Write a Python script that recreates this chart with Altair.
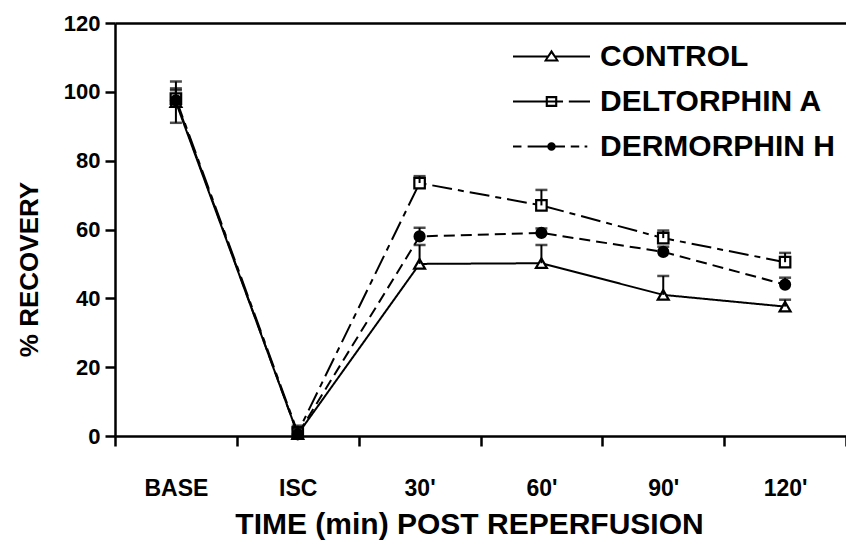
import altair as alt
import pandas as pd

# ---- data ----
categories = ["BASE", "ISC", "30'", "60'", "90'", "120'"]
series_names = ["CONTROL", "DELTORPHIN A", "DERMORPHIN H"]

control = [97.0, 0.5, 50.0, 50.2, 41.0, 37.6]
control_err_hi = [4.0, 2.0, 5.5, 5.3, 5.5, 2.0]
control_err_lo = [6.0, 0.0, 0.0, 0.0, 0.0, 0.0]

deltorphin = [98.0, 1.0, 73.5, 67.0, 57.5, 50.5]
deltorphin_err_hi = [5.0, 2.0, 2.0, 4.5, 2.2, 2.7]
deltorphin_err_lo = [0.0, 0.0, 0.0, 0.0, 0.0, 0.0]

dermorphin = [97.5, 0.5, 58.0, 59.0, 53.5, 44.0]
dermorphin_err_hi = [3.0, 1.5, 2.5, 1.3, 1.5, 2.0]
dermorphin_err_lo = [0.0, 0.0, 0.0, 0.0, 0.0, 0.0]

y_ticks = [0, 20, 40, 60, 80, 100, 120]

# ---- styles ----
FONT = "Liberation Sans"
dashes = [[1, 0], [20, 6, 6, 6], [11, 6]]
point_shapes = ["triangle-up", "square", "circle"]
point_sizes = [120, 100, 60]
point_fills = ["white", "white", "black"]

# legend glyphs (line sample + marker), drawn as filled outlines in [-1, 1] units
T = 0.028


def seg(x0, x1):
    return f"M{x0},{-T}L{x1},{-T}L{x1},{T}L{x0},{T}Z"


legend_paths = [
    seg(-1, -0.1) + seg(0.1, 1)
    + "M0,-0.18L0.2,0.13L-0.2,0.13Z" + "M0,-0.08L-0.11,0.075L0.11,0.075Z",
    seg(-1, -0.15) + "M-0.15,-0.14L0.15,-0.14L0.15,0.14L-0.15,0.14Z"
    + "M-0.095,-0.085L-0.095,0.085L0.095,0.085L0.095,-0.085Z"
    + seg(-0.095, 0.095) + seg(0.15, 0.3) + seg(0.45, 1),
    seg(-1, -0.78) + seg(-0.62, -0.1)
    + "M-0.11,0A0.11,0.11 0 1,1 0.11,0A0.11,0.11 0 1,1 -0.11,0Z"
    + seg(0.1, 0.35) + seg(0.5, 0.72) + seg(0.86, 0.93),
]

rows = []
for name, vals, hi, lo in [
    ("CONTROL", control, control_err_hi, control_err_lo),
    ("DELTORPHIN A", deltorphin, deltorphin_err_hi, deltorphin_err_lo),
    ("DERMORPHIN H", dermorphin, dermorphin_err_hi, dermorphin_err_lo),
]:
    for i, c in enumerate(categories):
        rows.append({"series": name, "time": c, "idx": i, "value": vals[i],
                     "lo": vals[i] - lo[i], "hi": vals[i] + hi[i]})
df = pd.DataFrame(rows)

caps = []
for r in rows:
    caps.append({"series": r["series"], "time": r["time"], "cap": r["hi"]})
    if r["lo"] < r["value"]:
        caps.append({"series": r["series"], "time": r["time"], "cap": r["lo"]})
caps_df = pd.DataFrame(caps)

xscale = alt.Scale(type="band", paddingInner=0, paddingOuter=0)

x_axis_bottom = alt.Axis(
    tickBand="extent", tickSize=10, tickWidth=2.5, domainWidth=2.5,
    labelFont=FONT, labelFontSize=23, labelFontWeight="bold", labelAngle=0,
    labelBaseline="alphabetic", labelPadding=49,
    title="TIME (min) POST REPERFUSION", titleFont=FONT, titleFontSize=30,
    titleFontWeight="bold", titleX=354, titleY=97, titleAlign="center",
    titleBaseline="alphabetic",
)
x_axis_top = alt.Axis(orient="top", labels=False, ticks=False, title=None,
                      domainWidth=2.5)

y_axis = alt.Axis(
    values=y_ticks, tickSize=10, tickWidth=2.5, domainWidth=2.5,
    labelFont=FONT, labelFontSize=22, labelFontWeight="bold", labelPadding=5,
    title="% RECOVERY", titleFont=FONT, titleFontSize=26, titleFontWeight="bold",
    titleX=-78, titleY=246, titleAngle=270, titleAlign="center",
    titleBaseline="alphabetic",
)
yscale = alt.Scale(domain=[0, 120], nice=False)


def X(axis):
    return alt.X("time:N", sort=categories, scale=xscale, axis=axis)


def Y(field):
    return alt.Y(f"{field}:Q", scale=yscale, axis=y_axis)


base = alt.Chart(df)

lines = base.mark_line(color="black", strokeWidth=2).encode(
    x=X(x_axis_bottom),
    y=Y("value"),
    strokeDash=alt.StrokeDash("series:N", scale=alt.Scale(domain=series_names, range=dashes), legend=None),
    order="idx:Q",
)

points = base.mark_point(filled=True, stroke="black", strokeWidth=2.2, opacity=1).encode(
    x=X(None),
    y=Y("value"),
    shape=alt.Shape("series:N", scale=alt.Scale(domain=series_names, range=point_shapes), legend=None),
    fill=alt.Fill("series:N", scale=alt.Scale(domain=series_names, range=point_fills), legend=None),
    size=alt.Size("series:N", scale=alt.Scale(domain=series_names, range=point_sizes), legend=None),
)

rules = base.mark_rule(color="black", strokeWidth=2).encode(
    x=X(None),
    y=Y("lo"),
    y2="hi:Q",
)

cap_marks = alt.Chart(caps_df).mark_tick(color="black", thickness=2.5, size=12).encode(
    x=X(None),
    y=Y("cap"),
)

legend_layer = base.transform_filter("false").mark_point(
    filled=True, color="black", opacity=1
).encode(
    x=X(x_axis_top),
    y=Y("value"),
    shape=alt.Shape(
        "series:N", scale=alt.Scale(domain=series_names, range=legend_paths),
        legend=alt.Legend(
            title=None, orient="none", legendX=398, legendY=18, direction="vertical",
            symbolSize=5929, symbolFillColor="black", symbolOpacity=1,
            symbolStrokeWidth=0, clipHeight=31,
            labelFont=FONT, labelFontSize=30, labelFontWeight="bold", labelColor="black",
            labelOffset=10, labelLimit=500, rowPadding=14, padding=0,
        ),
    ),
)

chart = alt.layer(lines, points, rules, cap_marks, legend_layer).resolve_scale(
    shape="independent", fill="independent"
).resolve_axis(x="independent").properties(
    width=731, height=413,
    autosize=alt.AutoSizeParams(type="none"),
    padding={"left": 107, "top": 15, "right": 0, "bottom": 105},
).configure_view(stroke=None).configure_axis(
    grid=False, domainColor="black", tickColor="black", labelColor="black", titleColor="black"
)

chart.save("out.html", embed_options={"renderer": "svg", "actions": False})
